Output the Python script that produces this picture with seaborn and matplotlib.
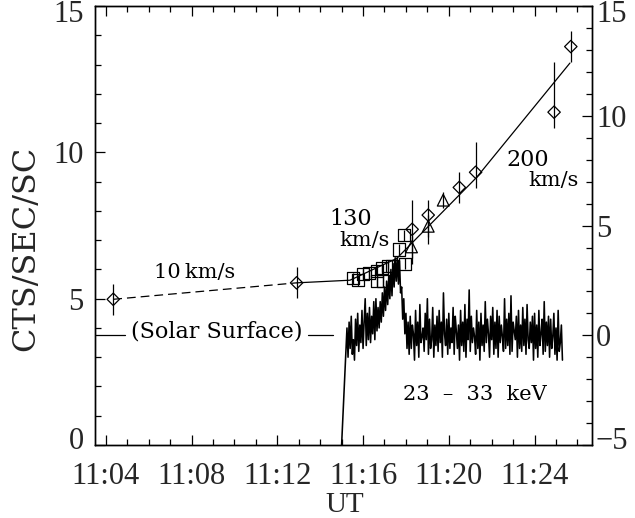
import numpy as np
import pandas as pd
import matplotlib
matplotlib.use("Agg")
import matplotlib.pyplot as plt
from matplotlib.ticker import FixedLocator, FixedFormatter, MultipleLocator
import seaborn as sns

# ---------------- data (time in minutes after 11:00 UT) ----------------
xtick_minutes = [4, 8, 12, 16, 20, 24]
xtick_labels = ["11:04", "11:08", "11:12", "11:16", "11:20", "11:24"]
left_ticks = [0, 5, 10, 15]
left_labels = ["", "5", "10", ""]
right_ticks = [-5, 0, 5, 10, 15]
right_labels = ["", "0", "5", "10", ""]
left_edge_labels = {15: "15", 0: "0"}
right_edge_labels = {15: "15", -5: "\u22125"}

# height measurements (right axis)
diamond_t = [4.35, 12.90, 18.29, 19.04, 20.49, 21.25, 24.91, 25.69]
diamond_h = [1.64, 2.39, 4.83, 5.48, 6.74, 7.43, 10.17, 13.16]
diamond_err_lo = [0.7, 0.7, 1.6, 1.3, 0.7, 0.7, 0.7, 0.7]
diamond_err_hi = [0.7, 0.7, 1.35, 0.7, 0.7, 1.4, 2.3, 0.7]

triangle_t = [18.26, 19.04, 19.74]
triangle_h = [4.03, 4.97, 6.16]
triangle_err = [0.5, 0.5, 0.35]

square_t = [15.54, 15.78, 16.01, 16.29, 16.63, 16.63, 16.94, 16.87, 17.15, 17.36, 17.67, 17.92, 17.95]
square_h = [2.59, 2.51, 2.79, 2.82, 2.94, 2.47, 2.47, 3.05, 3.16, 3.16, 3.91, 4.57, 3.27]
square_err = [0.25, 0.25, 0.25, 0.25, 0.25, 0.25, 0.25, 0.25, 0.25, 0.25, 0.25, 0.25, 0.25]

# fitted height-time profile
fit_dash_t = [4.35, 12.90]
fit_dash_h = [1.64, 2.39]
fit_t = [12.90, 15.39, 17.57, 21.30, 25.65]
fit_h = [2.39, 2.51, 3.50, 7.20, 12.41]

# solar surface marker line (right axis = 0)
surface_left_t = [3.48, 4.90]
surface_right_t = [13.43, 14.61]
surface_h = [0.0, 0.0]

# 23-33 keV hard X-ray count rate (left axis)
hxr_lead_t = [15.00]
hxr_lead_v = [0.0]
hxr_start = 15.25
hxr_step = 0.05
hxr_pre = [4.0, 3.0, 4.2, 3.3, 4.4, 3.1, 3.6, 2.9, 4.3, 3.4, 4.5, 3.2, 4.1, 3.5, 4.6,
           3.3, 4.2, 5.0, 3.4, 4.5, 3.6, 4.7, 3.5, 4.4, 3.8, 4.9, 3.6, 5.0, 3.9, 4.7]
hxr_rise = [4.0, 4.9, 4.2, 5.2, 4.4, 5.4, 4.6, 5.6, 4.8, 5.8, 5.0, 6.0, 5.1, 6.2, 5.4, 6.4, 5.6]
hxr_peak = [6.4, 5.5, 6.3, 5.2]
hxr_decay = [5.4, 4.3, 5.0, 3.8, 4.5, 3.3, 4.2]
hxr_tail = [3.1, 4.4, 3.3, 4.1, 3.8, 2.9, 4.6, 3.4, 4.2, 3.0, 4.8, 3.5,
            3.7, 4.0, 3.2, 4.5, 3.6, 5.0, 3.1, 4.3, 3.3, 3.6, 4.7, 3.0,
            4.1, 3.4, 4.4, 3.2, 4.6, 3.5, 4.2, 3.0, 5.2, 3.8, 3.4, 4.3,
            3.1, 4.5, 3.3, 4.0, 3.5, 4.7, 3.1, 4.4, 3.9, 3.3, 4.1, 2.9,
            4.6, 3.4, 4.2, 3.2, 4.8, 3.0, 4.3, 3.6, 5.3, 3.2, 4.4, 3.5,
            4.0, 3.7, 3.1, 4.6, 3.3, 4.2, 2.9, 4.5, 3.4, 4.1, 3.2, 4.9,
            3.5, 4.3, 3.8, 3.0, 4.4, 3.6, 4.7, 3.1, 4.2, 3.3, 4.6, 3.0,
            4.4, 3.5, 4.1, 3.7, 3.2, 5.0, 3.3, 4.3, 3.4, 4.5, 3.1, 5.1,
            3.2, 4.2, 3.9, 3.6, 4.4, 3.0, 4.6, 3.3, 4.1, 3.2, 4.7, 3.4,
            4.3, 3.1, 4.8, 3.6, 3.3, 4.2, 3.5, 4.4, 2.9, 4.5, 3.3, 4.1,
            3.0, 4.6, 3.4, 3.8, 4.3, 3.1, 4.9, 3.2, 4.2, 3.4, 4.4, 3.0,
            4.3, 3.3, 3.7, 4.5, 3.1, 4.0, 2.9, 4.6, 3.2, 3.5, 4.1, 2.9]

hxr_samples = hxr_pre + hxr_rise + hxr_peak + hxr_decay + hxr_tail
hxr_t = hxr_lead_t + list(hxr_start + hxr_step * np.arange(len(hxr_samples)))
hxr_v = hxr_lead_v + hxr_samples
hxr_df = pd.DataFrame({"t": hxr_t, "cts": hxr_v})

# ---------------- style ----------------
sns.set_style("ticks")
plt.rcParams["font.family"] = ["Liberation Serif", "DejaVu Serif"]
plt.rcParams["axes.linewidth"] = 1.0

fig = plt.figure(figsize=(6.35, 5.18), dpi=100)
ax = fig.add_axes([0.149, 0.141, 0.783, 0.847])
ax2 = ax.twinx()

# ---------------- HXR curve (left axis) ----------------
sns.lineplot(data=hxr_df, x="t", y="cts", ax=ax, color="black", lw=1.15,
             sort=False, estimator=None)

# ---------------- height-time data (right axis) ----------------
fit_dash_df = pd.DataFrame({"t": fit_dash_t, "h": fit_dash_h})
fit_df = pd.DataFrame({"t": fit_t, "h": fit_h})
sns.lineplot(data=fit_dash_df, x="t", y="h", ax=ax2, color="black", lw=0.9,
             linestyle=(0, (7, 4)), sort=False, estimator=None)
sns.lineplot(data=fit_df, x="t", y="h", ax=ax2, color="black", lw=0.9,
             sort=False, estimator=None)

for tt in (surface_left_t, surface_right_t):
    sns.lineplot(x=tt, y=surface_h, ax=ax2, color="black", lw=0.9,
                 sort=False, estimator=None)

ax2.errorbar(diamond_t, diamond_h, yerr=[diamond_err_lo, diamond_err_hi],
             fmt="none", ecolor="black", elinewidth=0.9, capsize=0)
ax2.errorbar(triangle_t, triangle_h, yerr=triangle_err,
             fmt="none", ecolor="black", elinewidth=0.9, capsize=0)
ax2.errorbar(square_t, square_h, yerr=square_err,
             fmt="none", ecolor="black", elinewidth=0.9, capsize=0)

for tt, hh, mk, size in ((diamond_t, diamond_h, "D", 40),
                         (triangle_t, triangle_h, "^", 72),
                         (square_t, square_h, "s", 75)):
    sns.scatterplot(x=tt, y=hh, ax=ax2, marker=mk, s=size, color="black",
                    linewidth=0.9, legend=False)
    coll = ax2.collections[-1]
    coll.set_facecolor("none")
    coll.set_edgecolor("black")

# ---------------- axes ----------------
ax.set_xlim(3.48, 26.67)
ax.set_ylim(0, 15)
ax2.set_ylim(-5, 15)

ax.xaxis.set_major_locator(FixedLocator(xtick_minutes))
ax.xaxis.set_major_formatter(FixedFormatter(xtick_labels))
ax.xaxis.set_minor_locator(MultipleLocator(1))
ax.yaxis.set_major_locator(FixedLocator(left_ticks))
ax.yaxis.set_major_formatter(FixedFormatter(left_labels))
ax.yaxis.set_minor_locator(MultipleLocator(1))
ax2.yaxis.set_major_locator(FixedLocator(right_ticks))
ax2.yaxis.set_major_formatter(FixedFormatter(right_labels))
ax2.yaxis.set_minor_locator(MultipleLocator(1))

fs_tick = 22
ax.tick_params(axis="x", which="both", direction="in", top=True, bottom=True,
               labelsize=fs_tick, pad=12)
ax.tick_params(axis="y", which="both", direction="in", left=True, right=False,
               labelsize=fs_tick, pad=8)
ax2.tick_params(axis="y", which="both", direction="in", right=True, left=False,
                labelsize=fs_tick, pad=3)
ax2.tick_params(axis="x", which="both", top=False, bottom=False,
                labeltop=False, labelbottom=False)
for a in (ax, ax2):
    a.tick_params(which="major", length=7, width=0.9, color="black")
    a.tick_params(which="minor", length=4.3, width=0.9, color="black")
    a.set_xlabel("")
    a.set_ylabel("")
    for sp in a.spines.values():
        sp.set_visible(True)
        sp.set_color("black")

# end labels sit slightly inside the axis range, as in the original
for val, txt in left_edge_labels.items():
    dy = -6 if val > 0 else 2.5
    ax.annotate(txt, xy=(0, val), xycoords=("axes fraction", "data"),
                xytext=(-8, dy), textcoords="offset points", ha="right",
                va="center", fontsize=fs_tick)
for val, txt in right_edge_labels.items():
    dy = -6 if val > 0 else 2.5
    ax2.annotate(txt, xy=(1, val), xycoords=("axes fraction", "data"),
                 xytext=(3, dy), textcoords="offset points", ha="left",
                 va="center", fontsize=fs_tick)

fig.text(26 / 635, 1 - 248 / 518, "CTS/SEC/SC", rotation=90, ha="center",
         va="center", fontsize=23, family="DejaVu Serif")
fig.text(345 / 635, 1 - 505 / 518, "UT", ha="center", va="center",
         fontsize=21)

# ---------------- annotations (left-axis data coordinates) ----------------
tf = dict(family="DejaVu Serif", ha="center", va="center", color="black")
ax.text(8.16, 5.91, "10\u2009km/s", fontsize=15, **tf)
ax.text(15.44, 7.74, "130", fontsize=16, **tf)
ax.text(16.09, 7.00, "km/s", fontsize=15, **tf)
ax.text(23.66, 9.73, "200", fontsize=16, **tf)
ax.text(24.88, 9.04, "km/s", fontsize=15, **tf)
ax.text(9.17, 3.87, "(Solar Surface)", fontsize=16, **tf)
ax.text(21.22, 1.73, "23  \u2013  33  keV", fontsize=15, **tf)

fig.savefig("out.png", dpi=100)
